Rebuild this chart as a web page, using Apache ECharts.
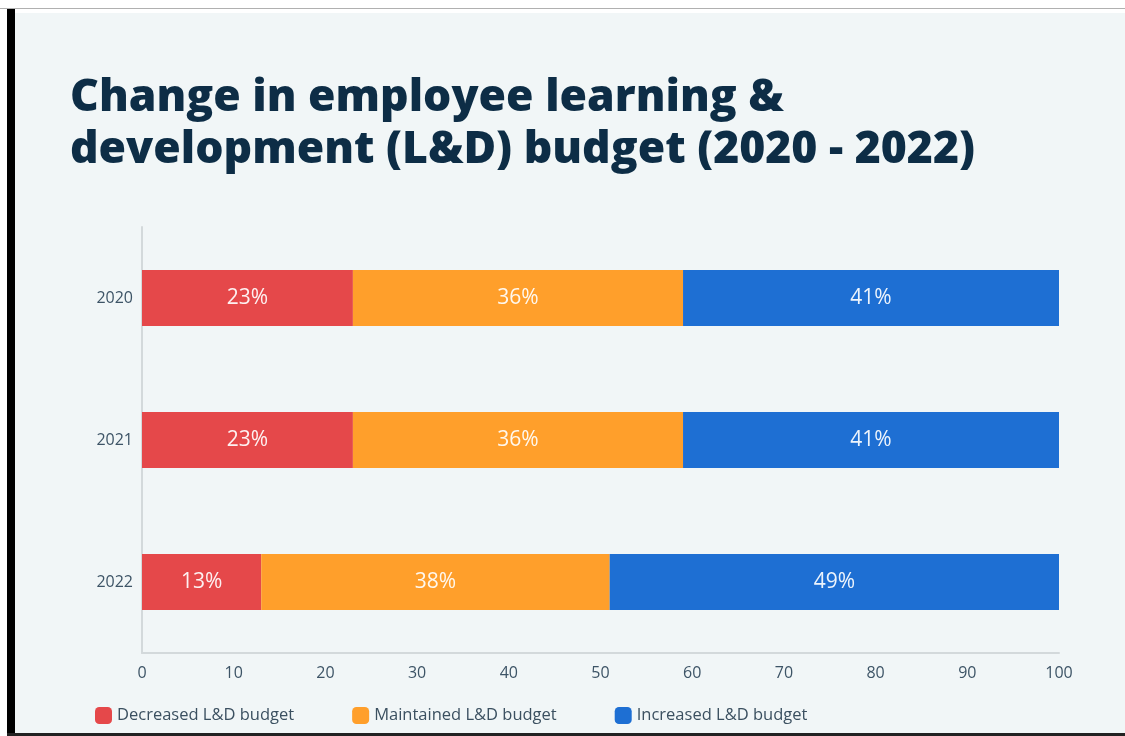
<!DOCTYPE html>
<html>
<head>
<meta charset="utf-8">
<script src="https://cdn.jsdelivr.net/npm/echarts@6/dist/echarts.min.js"></script>
<style>
  html, body { margin: 0; padding: 0; background: #ffffff; }
  #wrap { position: relative; width: 1125px; height: 736px; overflow: hidden; }
  .deco { position: absolute; }
  #chart { position: absolute; left: 0; top: 0; width: 1125px; height: 736px; }
</style>
</head>
<body>
<div id="wrap">
  <div class="deco" style="left:0;top:8px;width:1125px;height:1px;background:#b0b0b0"></div>
  <div class="deco" style="left:15px;top:13px;width:1110px;height:720px;background:#f1f6f7"></div>
  <div class="deco" style="left:7px;top:9px;width:8px;height:727px;background:#000"></div>
  <div class="deco" style="left:7px;top:733px;width:1118px;height:3px;background:#222"></div>
  <div id="chart"></div>
</div>
<script>
// Survey years shown as rows
const years = ['2020', '2021', '2022'];
// Share of respondents (%) per budget outcome
const decreased = [23, 23, 13];
const maintained = [36, 36, 38];
const increased = [41, 41, 49];
const seriesNames = ['Decreased L&D budget', 'Maintained L&D budget', 'Increased L&D budget'];
const seriesColors = ['#e5484a', '#ff9f2b', '#1e6fd3'];
const titleText = 'Change in employee learning &\ndevelopment (L&D) budget (2020 - 2022)';

const FONT = '"Open Sans", "Noto Sans", sans-serif';
const chart = echarts.init(document.getElementById('chart'), null, { renderer: 'canvas' });

function barSeries(name, data, color) {
  return {
    name: name,
    type: 'bar',
    stack: 'total',
    data: data,
    barWidth: 56,
    itemStyle: { color: color },
    label: {
      show: true,
      position: 'inside',
      formatter: '{c}%',
      color: 'rgba(255,255,255,0.92)',
      fontFamily: FONT,
      fontSize: 21
    },
    emphasis: { disabled: true }
  };
}

chart.setOption({
  animation: false,
  backgroundColor: 'transparent',
  title: {
    text: titleText,
    left: 65,
    top: 67,
    textStyle: {
      fontFamily: FONT,
      fontWeight: 800,
      fontSize: 44.5,
      lineHeight: 52,
      color: '#0d2d46'
    }
  },
  legend: {
    left: 95,
    top: 707,
    padding: 0,
    itemWidth: 17,
    itemHeight: 17,
    itemGap: 58,
    icon: 'roundRect',
    textStyle: { fontFamily: FONT, fontSize: 16.5, color: '#3b5060' },
    data: seriesNames
  },
  grid: { left: 142, right: 66, top: 227, bottom: 83, containLabel: false },
  xAxis: {
    type: 'value',
    min: 0,
    max: 100,
    interval: 10,
    splitLine: { show: false },
    axisLine: { show: true, lineStyle: { color: '#d3d9db', width: 2 } },
    axisTick: { show: false },
    axisLabel: { fontFamily: FONT, fontSize: 16, color: '#3d5466', margin: 12 }
  },
  yAxis: {
    type: 'category',
    data: years,
    inverse: true,
    axisLine: { show: true, lineStyle: { color: '#d3d9db', width: 2 } },
    axisTick: { show: false },
    axisLabel: { fontFamily: FONT, fontSize: 16, color: '#3d5466', margin: 9 }
  },
  series: [
    barSeries(seriesNames[0], decreased, seriesColors[0]),
    barSeries(seriesNames[1], maintained, seriesColors[1]),
    barSeries(seriesNames[2], increased, seriesColors[2])
  ]
});
</script>
</body>
</html>
